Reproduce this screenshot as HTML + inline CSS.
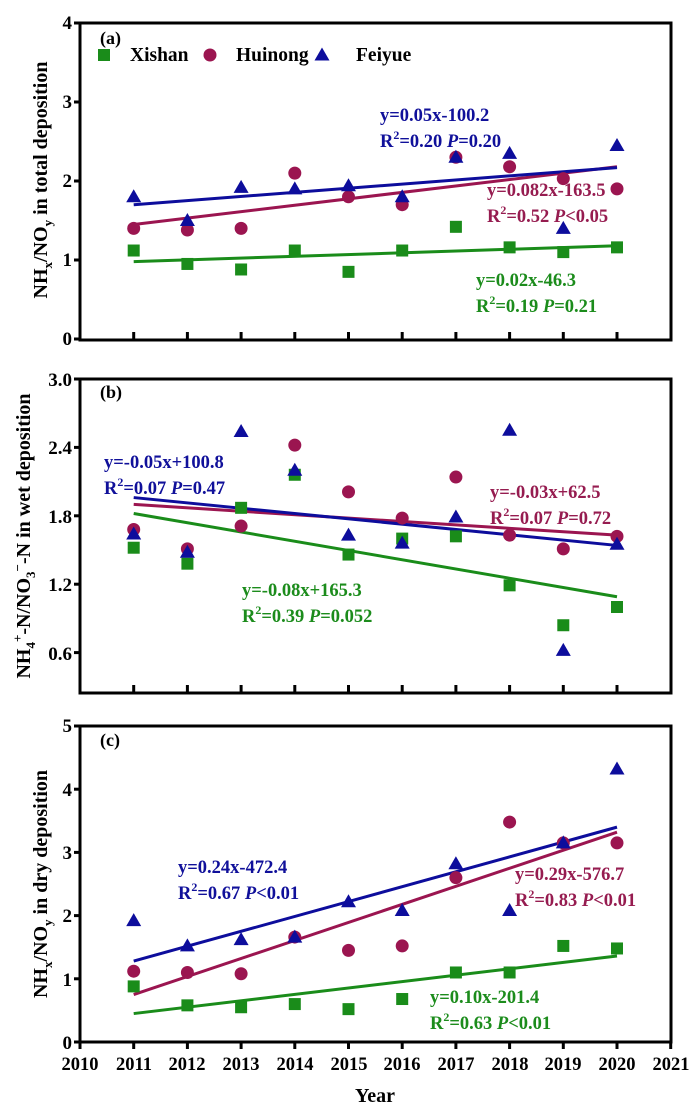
<!DOCTYPE html>
<html><head><meta charset="utf-8"><style>
html,body{margin:0;padding:0;background:#fff;}
svg{display:block;font-family:"Liberation Serif",serif;font-weight:bold;}
</style></head><body>
<svg id="s" width="700" height="1119" viewBox="0 0 700 1119" xmlns="http://www.w3.org/2000/svg">
<g font-size="19" text-anchor="end" fill="#000">
<text x="72" y="29">4</text><text x="72" y="108">3</text><text x="72" y="187">2</text><text x="72" y="266">1</text><text x="72" y="345">0</text>
<text x="72" y="386">3.0</text><text x="72" y="454">2.4</text><text x="72" y="523">1.8</text><text x="72" y="591">1.2</text><text x="72" y="660">0.6</text>
<text x="72" y="732">5</text><text x="72" y="796">4</text><text x="72" y="859">3</text><text x="72" y="922">2</text><text x="72" y="986">1</text><text x="72" y="1049">0</text>
</g>
<g font-size="18.5" text-anchor="middle">
<text x="80" y="1070">2010</text><text x="134" y="1070">2011</text><text x="187" y="1070">2012</text><text x="241" y="1070">2013</text><text x="295" y="1070">2014</text><text x="349" y="1070">2015</text><text x="402" y="1070">2016</text><text x="456" y="1070">2017</text><text x="510" y="1070">2018</text><text x="563" y="1070">2019</text><text x="617" y="1070">2020</text><text x="671" y="1070">2021</text>
<text x="375" y="1102" font-size="20">Year</text>
</g>
<g font-size="20" text-anchor="middle">
<text transform="translate(47,180) rotate(-90)">NH<tspan font-size="13" dy="5">x</tspan><tspan dy="-5">/NO</tspan><tspan font-size="13" dy="5">y</tspan><tspan dy="-5"> in total deposition</tspan></text>
<text transform="translate(30,536) rotate(-90)">NH<tspan font-size="13" dy="5">4</tspan><tspan font-size="13" dy="-13">+</tspan><tspan dy="8">-N/NO</tspan><tspan font-size="13" dy="5">3</tspan><tspan font-size="13" dy="-13">−</tspan><tspan dy="8">-N in wet deposition</tspan></text>
<text transform="translate(47,884) rotate(-90)">NH<tspan font-size="13" dy="5">x</tspan><tspan dy="-5">/NO</tspan><tspan font-size="13" dy="5">y</tspan><tspan dy="-5"> in dry deposition</tspan></text>
</g>
<g font-size="18">
<text x="100" y="44">(a)</text><text x="100" y="398">(b)</text><text x="100" y="746">(c)</text>
</g>
<g font-size="19.5">
<text x="130" y="61">Xishan</text><text x="236" y="61">Huinong</text><text x="356" y="61">Feiyue</text>
</g>
<g font-size="18.5">
<text x="380" y="121" fill="#10109a">y=0.05x-100.2</text>
<text x="380" y="147" fill="#10109a">R<tspan font-size="12" dy="-8">2</tspan><tspan dy="8">=0.20 </tspan><tspan font-style="italic">P</tspan>=0.20</text>
<text x="487" y="196" fill="#961c50">y=0.082x-163.5</text>
<text x="487" y="222" fill="#961c50">R<tspan font-size="12" dy="-8">2</tspan><tspan dy="8">=0.52 </tspan><tspan font-style="italic">P</tspan>&lt;0.05</text>
<text x="476" y="286" fill="#1c8c1c">y=0.02x-46.3</text>
<text x="476" y="312" fill="#1c8c1c">R<tspan font-size="12" dy="-8">2</tspan><tspan dy="8">=0.19 </tspan><tspan font-style="italic">P</tspan>=0.21</text>

<text x="104" y="468" fill="#10109a">y=-0.05x+100.8</text>
<text x="104" y="494" fill="#10109a">R<tspan font-size="12" dy="-8">2</tspan><tspan dy="8">=0.07 </tspan><tspan font-style="italic">P</tspan>=0.47</text>
<text x="490" y="498" fill="#961c50">y=-0.03x+62.5</text>
<text x="490" y="524" fill="#961c50">R<tspan font-size="12" dy="-8">2</tspan><tspan dy="8">=0.07 </tspan><tspan font-style="italic">P</tspan>=0.72</text>
<text x="242" y="596" fill="#1c8c1c">y=-0.08x+165.3</text>
<text x="242" y="622" fill="#1c8c1c">R<tspan font-size="12" dy="-8">2</tspan><tspan dy="8">=0.39 </tspan><tspan font-style="italic">P</tspan>=0.052</text>

<text x="178" y="873" fill="#10109a">y=0.24x-472.4</text>
<text x="178" y="899" fill="#10109a">R<tspan font-size="12" dy="-8">2</tspan><tspan dy="8">=0.67 </tspan><tspan font-style="italic">P</tspan>&lt;0.01</text>
<text x="515" y="880" fill="#961c50">y=0.29x-576.7</text>
<text x="515" y="906" fill="#961c50">R<tspan font-size="12" dy="-8">2</tspan><tspan dy="8">=0.83 </tspan><tspan font-style="italic">P</tspan>&lt;0.01</text>
<text x="430" y="1003" fill="#1c8c1c">y=0.10x-201.4</text>
<text x="430" y="1029" fill="#1c8c1c">R<tspan font-size="12" dy="-8">2</tspan><tspan dy="8">=0.63 </tspan><tspan font-style="italic">P</tspan>&lt;0.01</text>
</g>
<g id="dyn"></g>
</svg>
<script>
var NS="http://www.w3.org/2000/svg",g=document.getElementById("dyn");
function el(t,a){var e=document.createElementNS(NS,t);for(var k in a)e.setAttribute(k,a[k]);g.appendChild(e);return e;}
var G="#1a8c1a",M="#9b1550",B="#0d0d9c";
function X(yr){return 80+(yr-2010)*53.7;}
function sq(x,y,c){el("rect",{x:x-6,y:y-6,width:12,height:12,fill:c});}
function ci(x,y,c){el("circle",{cx:x,cy:y,r:6.5,fill:c});}
function tr(x,y,c){el("polygon",{points:(x)+","+(y-7.5)+" "+(x-7.5)+","+(y+5.5)+" "+(x+7.5)+","+(y+5.5),fill:c});}
var panels=[
 {top:23,bot:340,f:function(v){return 339-79*v;},tickUp:true,
  xs:[1.12,0.95,0.88,1.12,0.85,1.12,1.42,1.16,1.10,1.16],
  hu:[1.40,1.38,1.40,2.10,1.80,1.70,2.30,2.18,2.03,1.90],
  fe:[1.80,1.50,1.92,1.90,1.94,1.80,2.30,2.35,1.40,2.45],
  yt:[0,1,2,3,4],
  lx:[0.98,1.18],lh:[1.45,2.18],lf:[1.70,2.17]},
 {top:379,bot:693,f:function(v){return 721-114*v;},tickUp:true,
  xs:[1.52,1.38,1.87,2.16,1.46,1.60,1.62,1.19,0.84,1.00],
  hu:[1.68,1.51,1.71,2.42,2.01,1.78,2.14,1.63,1.51,1.62],
  fe:[1.64,1.48,2.54,2.20,1.63,1.56,1.79,2.55,0.62,1.55],
  yt:[0.6,1.2,1.8,2.4,3.0],
  lx:[1.82,1.09],lh:[1.90,1.63],lf:[1.96,1.54]},
 {top:726,bot:1042,f:function(v){return 1042-63.2*v;},tickUp:false,
  xs:[0.88,0.58,0.55,0.60,0.52,0.68,1.10,1.10,1.52,1.48],
  hu:[1.12,1.10,1.08,1.66,1.45,1.52,2.60,3.48,3.15,3.15],
  fe:[1.92,1.52,1.62,1.66,2.22,2.08,2.82,2.08,3.15,4.32],
  yt:[0,1,2,3,4,5],
  lx:[0.45,1.36],lh:[0.75,3.32],lf:[1.28,3.40]}
];
panels.forEach(function(p){
 el("rect",{x:80,y:p.top,width:591,height:p.bot-p.top,fill:"none",stroke:"#000","stroke-width":3});
 p.yt.forEach(function(v){var y=p.f(v);el("line",{x1:74,y1:y,x2:80,y2:y,stroke:"#000","stroke-width":3});});
 if(p.tickUp)for(var yr=2011;yr<=2020;yr++){var x=X(yr);el("line",{x1:x,y1:p.bot-8,x2:x,y2:p.bot,stroke:"#000","stroke-width":3});}
 else for(var yr=2010;yr<=2021;yr++){var x=X(yr);el("line",{x1:x,y1:p.bot,x2:x,y2:p.bot+7,stroke:"#000","stroke-width":3});}
 [[p.lx,G],[p.lh,M],[p.lf,B]].forEach(function(l){el("line",{x1:X(2011),y1:p.f(l[0][0]),x2:X(2020),y2:p.f(l[0][1]),stroke:l[1],"stroke-width":3});});
 for(var i=0;i<10;i++){var x=X(2011+i);
  sq(x,p.f(p.xs[i]),G);ci(x,p.f(p.hu[i]),M);tr(x,p.f(p.fe[i]),B);}
});
sq(104,55,G);ci(210,55,M);tr(322,55,B);
</script>
</body></html>
